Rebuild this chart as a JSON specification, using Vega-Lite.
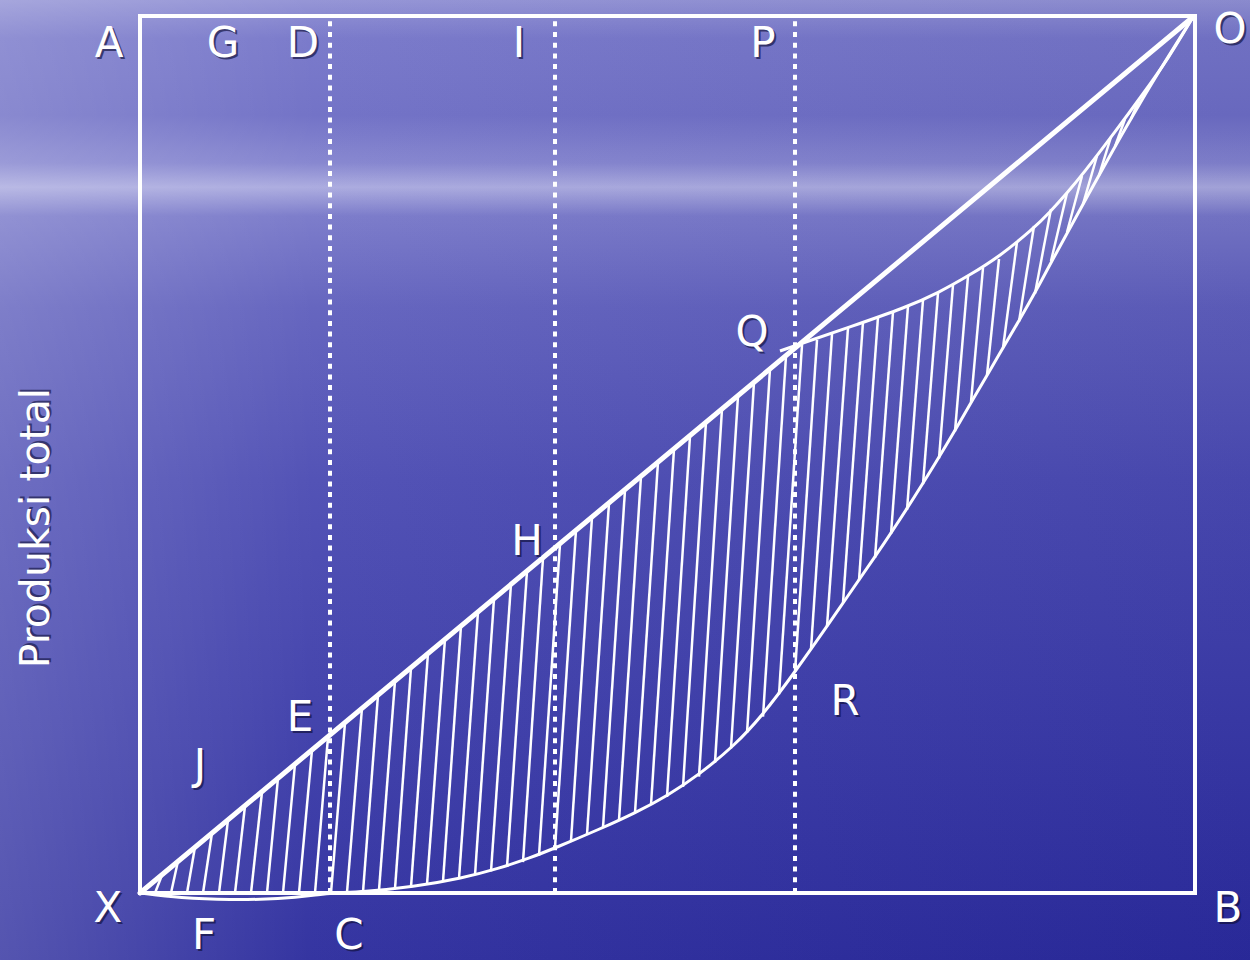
{
  "$schema": "https://vega.github.io/schema/vega-lite/v6.json",
  "width": 1250,
  "height": 960,
  "autosize": {"type": "none"},
  "padding": 0,
  "background": "#4a4ab4",
  "config": {"view": {"stroke": null}},
  "datasets": {
    "bg": [{"x": -140, "x2": 1110, "y": -67, "y2": 893}],
    "box": [{"x": 0, "x2": 1055, "y": 0, "y2": 877}],
    "dotted": [
      {"x": 190, "y": 0, "y2": 877},
      {"x": 415, "y": 0, "y2": 877},
      {"x": 655, "y": 0, "y2": 877}
    ],
    "diag": [{"x": 0, "y": 0, "x2": 1053, "y2": 876}],
    "hatch": [
      {"x": 15, "y": 0, "x2": 22, "y2": 18},
      {"x": 31, "y": 0, "x2": 38, "y2": 32},
      {"x": 47, "y": 0, "x2": 55, "y2": 46},
      {"x": 63, "y": 0, "x2": 72, "y2": 60},
      {"x": 79, "y": 0, "x2": 88, "y2": 73},
      {"x": 95, "y": 0, "x2": 105, "y2": 87},
      {"x": 111, "y": 0, "x2": 122, "y2": 101},
      {"x": 127, "y": 0, "x2": 138, "y2": 115},
      {"x": 143, "y": 0, "x2": 155, "y2": 129},
      {"x": 159, "y": 0, "x2": 172, "y2": 143},
      {"x": 175, "y": 0, "x2": 188, "y2": 156},
      {"x": 191, "y": 0, "x2": 205, "y2": 170},
      {"x": 207, "y": 0.5, "x2": 222, "y2": 185},
      {"x": 223, "y": 1, "x2": 238, "y2": 198},
      {"x": 239, "y": 2.6, "x2": 255, "y2": 212},
      {"x": 255, "y": 4.2, "x2": 271, "y2": 225},
      {"x": 271, "y": 5.8, "x2": 288, "y2": 240},
      {"x": 287, "y": 8.5, "x2": 305, "y2": 254},
      {"x": 303, "y": 11.4, "x2": 321, "y2": 267},
      {"x": 319, "y": 14.3, "x2": 338, "y2": 281},
      {"x": 335, "y": 17.8, "x2": 354, "y2": 294},
      {"x": 351, "y": 21.6, "x2": 371, "y2": 309},
      {"x": 367, "y": 26, "x2": 387, "y2": 322},
      {"x": 383, "y": 30.9, "x2": 403, "y2": 335},
      {"x": 399, "y": 37.3, "x2": 420, "y2": 349},
      {"x": 415, "y": 45, "x2": 436, "y2": 363},
      {"x": 431, "y": 51.8, "x2": 452, "y2": 376},
      {"x": 447, "y": 58.5, "x2": 469, "y2": 390},
      {"x": 463, "y": 65.4, "x2": 485, "y2": 403},
      {"x": 479, "y": 72.7, "x2": 501, "y2": 417},
      {"x": 495, "y": 80, "x2": 518, "y2": 431},
      {"x": 511, "y": 88, "x2": 534, "y2": 444},
      {"x": 527, "y": 96, "x2": 550, "y2": 457},
      {"x": 543, "y": 106.2, "x2": 566, "y2": 471},
      {"x": 559, "y": 116.4, "x2": 582, "y2": 484},
      {"x": 575, "y": 130.3, "x2": 598, "y2": 497},
      {"x": 591, "y": 144.5, "x2": 614, "y2": 511},
      {"x": 607, "y": 160, "x2": 630, "y2": 524},
      {"x": 623, "y": 176.4, "x2": 646, "y2": 537},
      {"x": 639, "y": 198.7, "x2": 662, "y2": 548},
      {"x": 655, "y": 221, "x2": 677, "y2": 553},
      {"x": 671, "y": 243.9, "x2": 692, "y2": 559},
      {"x": 687, "y": 266.7, "x2": 708, "y2": 565},
      {"x": 703, "y": 290.1, "x2": 723, "y2": 571},
      {"x": 719, "y": 312.6, "x2": 738, "y2": 576},
      {"x": 735, "y": 335, "x2": 753, "y2": 581},
      {"x": 751, "y": 359, "x2": 768, "y2": 587},
      {"x": 767, "y": 383, "x2": 783, "y2": 593},
      {"x": 783, "y": 408.8, "x2": 798, "y2": 600},
      {"x": 799, "y": 434.7, "x2": 813, "y2": 608},
      {"x": 815, "y": 461.6, "x2": 828, "y2": 617},
      {"x": 831, "y": 491.1, "x2": 843, "y2": 625},
      {"x": 847, "y": 518.2, "x2": 859, "y2": 634},
      {"x": 863, "y": 545, "x2": 877, "y2": 651},
      {"x": 879, "y": 571.4, "x2": 894, "y2": 667},
      {"x": 895, "y": 599.5, "x2": 911, "y2": 684},
      {"x": 911, "y": 631.9, "x2": 927, "y2": 700},
      {"x": 927, "y": 660.7, "x2": 942, "y2": 717},
      {"x": 943, "y": 688.9, "x2": 957, "y2": 737},
      {"x": 959, "y": 717.7, "x2": 971, "y2": 756},
      {"x": 975, "y": 746.5, "x2": 985, "y2": 774},
      {"x": 991, "y": 774.3, "x2": 999, "y2": 793}
    ],
    "lower": [
      {"x": 0, "y": 0}, {"x": 40, "y": -5}, {"x": 90, "y": -7}, {"x": 140, "y": -6},
      {"x": 177, "y": -2}, {"x": 190, "y": 0}, {"x": 223, "y": 1}, {"x": 273, "y": 6},
      {"x": 323, "y": 15}, {"x": 357, "y": 24}, {"x": 390, "y": 35}, {"x": 415, "y": 45},
      {"x": 460, "y": 64}, {"x": 495, "y": 80}, {"x": 527, "y": 97}, {"x": 560, "y": 119},
      {"x": 595, "y": 148}, {"x": 622, "y": 177}, {"x": 655, "y": 221}, {"x": 690, "y": 271},
      {"x": 705, "y": 293}, {"x": 735, "y": 336}, {"x": 767, "y": 384}, {"x": 798, "y": 434},
      {"x": 817, "y": 466}, {"x": 832, "y": 492}, {"x": 860, "y": 540}, {"x": 880, "y": 574},
      {"x": 897, "y": 604}, {"x": 913, "y": 634}, {"x": 930, "y": 665}, {"x": 947, "y": 696},
      {"x": 973, "y": 743}, {"x": 1000, "y": 790}, {"x": 1023, "y": 828}, {"x": 1053, "y": 876}
    ],
    "upper": [
      {"x": 640, "y": 542}, {"x": 657, "y": 548}, {"x": 710, "y": 566}, {"x": 767, "y": 586},
      {"x": 798, "y": 600}, {"x": 830, "y": 618}, {"x": 860, "y": 637}, {"x": 893, "y": 664},
      {"x": 910, "y": 681}, {"x": 927, "y": 700}, {"x": 943, "y": 719}, {"x": 975, "y": 761},
      {"x": 1003, "y": 799}, {"x": 1028, "y": 834}, {"x": 1053, "y": 876}
    ],
    "labels": [
      {"x": -31, "y": 836, "t": "A"},
      {"x": 83, "y": 836, "t": "G"},
      {"x": 163, "y": 836, "t": "D"},
      {"x": 379, "y": 836, "t": "I"},
      {"x": 623, "y": 836, "t": "P"},
      {"x": 1090, "y": 850, "t": "O"},
      {"x": 612, "y": 547, "t": "Q"},
      {"x": 387, "y": 338, "t": "H"},
      {"x": 160, "y": 162, "t": "E"},
      {"x": 60, "y": 114, "t": "J"},
      {"x": 705, "y": 178, "t": "R"},
      {"x": -32, "y": -29, "t": "X"},
      {"x": 64, "y": -56, "t": "F"},
      {"x": 209, "y": -56, "t": "C"},
      {"x": 1088, "y": -29, "t": "B"}
    ],
    "ytitle": [{"x": -91, "y": 365, "t": "Produksi total"}]
  },
  "encoding": {
    "x": {"field": "x", "type": "quantitative", "scale": {"domain": [-140, 1110], "nice": false, "zero": false}, "axis": null},
    "y": {"field": "y", "type": "quantitative", "scale": {"domain": [-67, 893], "nice": false, "zero": false}, "axis": null}
  },
  "layer": [
    {
      "data": {"name": "bg"},
      "mark": {
        "type": "rect",
        "fill": {
          "gradient": "linear", "x1": 0, "y1": 0, "x2": 0, "y2": 1,
          "stops": [
            {"offset": 0, "color": "#9090d4"},
            {"offset": 0.04, "color": "#7474c8"},
            {"offset": 0.12, "color": "#6c6cc4"},
            {"offset": 0.17, "color": "#8282ce"},
            {"offset": 0.195, "color": "#a8a8de"},
            {"offset": 0.225, "color": "#7676c8"},
            {"offset": 0.32, "color": "#5e5ebc"},
            {"offset": 0.5, "color": "#4a4ab2"},
            {"offset": 0.75, "color": "#3a3aa8"},
            {"offset": 1, "color": "#2a2a9c"}
          ]
        }
      },
      "encoding": {"x2": {"field": "x2"}, "y2": {"field": "y2"}}
    },
    {
      "data": {"name": "bg"},
      "mark": {
        "type": "rect",
        "fill": {
          "gradient": "linear", "x1": 0, "y1": 0, "x2": 1, "y2": 0,
          "stops": [
            {"offset": 0, "color": "rgba(255,255,255,0.2)"},
            {"offset": 0.25, "color": "rgba(255,255,255,0.05)"},
            {"offset": 1, "color": "rgba(0,0,40,0.04)"}
          ]
        }
      },
      "encoding": {"x2": {"field": "x2"}, "y2": {"field": "y2"}}
    },
    {
      "data": {"name": "box"},
      "mark": {"type": "rect", "fill": "transparent", "stroke": "white", "strokeWidth": 4},
      "encoding": {"x2": {"field": "x2"}, "y2": {"field": "y2"}}
    },
    {
      "data": {"name": "hatch"},
      "mark": {"type": "rule", "color": "white", "strokeWidth": 2.5},
      "encoding": {"x2": {"field": "x2"}, "y2": {"field": "y2"}}
    },
    {
      "data": {"name": "dotted"},
      "mark": {"type": "rule", "color": "white", "strokeWidth": 4, "strokeDash": [5, 5.7]},
      "encoding": {"y2": {"field": "y2"}}
    },
    {
      "data": {"name": "lower"},
      "mark": {"type": "line", "color": "white", "strokeWidth": 3, "interpolate": "basis"},
      "encoding": {}
    },
    {
      "data": {"name": "upper"},
      "mark": {"type": "line", "color": "white", "strokeWidth": 3, "interpolate": "basis"},
      "encoding": {}
    },
    {
      "data": {"name": "diag"},
      "mark": {"type": "rule", "color": "white", "strokeWidth": 5, "strokeCap": "round"},
      "encoding": {"x2": {"field": "x2"}, "y2": {"field": "y2"}}
    },
    {
      "data": {"name": "labels"},
      "mark": {"type": "text", "font": "DejaVu Sans", "fontSize": 42, "align": "center", "baseline": "alphabetic", "color": "#10103a", "opacity": 0.65, "dx": 2, "dy": 2},
      "encoding": {"text": {"field": "t"}}
    },
    {
      "data": {"name": "labels"},
      "mark": {"type": "text", "font": "DejaVu Sans", "fontSize": 42, "align": "center", "baseline": "alphabetic", "color": "white"},
      "encoding": {"text": {"field": "t"}}
    },
    {
      "data": {"name": "ytitle"},
      "mark": {"type": "text", "font": "DejaVu Sans", "fontSize": 41, "align": "center", "baseline": "alphabetic", "angle": 270, "color": "#10103a", "opacity": 0.6, "dx": 2, "dy": 2},
      "encoding": {"text": {"field": "t"}}
    },
    {
      "data": {"name": "ytitle"},
      "mark": {"type": "text", "font": "DejaVu Sans", "fontSize": 41, "align": "center", "baseline": "alphabetic", "angle": 270, "color": "white"},
      "encoding": {"text": {"field": "t"}}
    }
  ]
}
